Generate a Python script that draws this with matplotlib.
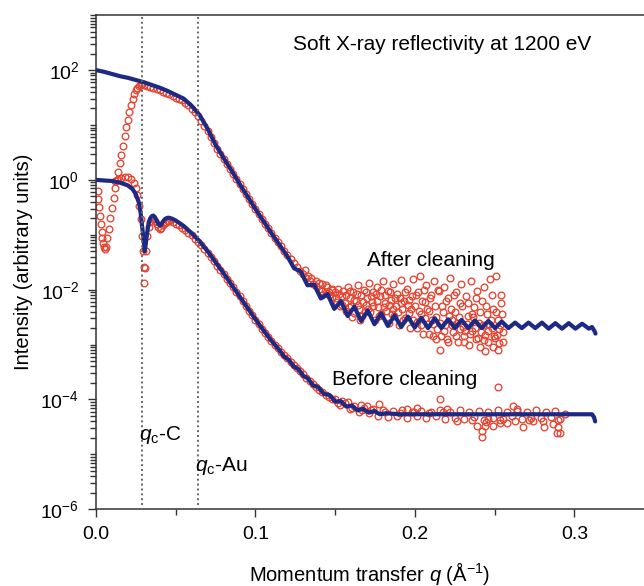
import numpy as np
import matplotlib
matplotlib.use("Agg")
import matplotlib.pyplot as plt
from matplotlib.ticker import FixedLocator, LogLocator, NullFormatter, MultipleLocator

plt.rcParams['font.family'] = ['Liberation Sans', 'DejaVu Sans']
plt.rcParams['mathtext.fontset'] = 'custom'
plt.rcParams['mathtext.rm'] = 'Liberation Sans'
plt.rcParams['mathtext.it'] = 'Liberation Sans:italic'

# ---- data (intensities stored as log10 values) ----
after_fit_q = [0.000, 0.005, 0.010, 0.015, 0.020, 0.025, 0.030, 0.035, 0.040, 0.045,
               0.050, 0.055, 0.060, 0.065, 0.070, 0.075, 0.080, 0.085, 0.090, 0.095,
               0.100, 0.105, 0.110, 0.115,
               0.1200, 0.1242, 0.1284, 0.1326, 0.1368, 0.1410, 0.1452, 0.1494, 0.1536, 0.1578,
               0.1620, 0.1662, 0.1704, 0.1746, 0.1788, 0.1830, 0.1872, 0.1914, 0.1956, 0.1998,
               0.2040, 0.2082, 0.2124, 0.2166, 0.2208, 0.2250, 0.2292, 0.2334, 0.2376, 0.2418,
               0.2460, 0.2502, 0.2544, 0.2586, 0.2628, 0.2670, 0.2712, 0.2754, 0.2796, 0.2838,
               0.2880, 0.2922, 0.2964, 0.3006, 0.3048, 0.3090, 0.3110, 0.3125, 0.3132]
after_fit_log = [2.00, 1.97, 1.93, 1.89, 1.86, 1.82, 1.78, 1.73, 1.68, 1.62,
                 1.55, 1.48, 1.35, 1.18, 0.93, 0.64, 0.40, 0.17, -0.07, -0.30,
                 -0.53, -0.75, -0.97, -1.18,
                 -1.39, -1.61, -1.67, -1.92, -1.91, -2.16, -2.08, -2.35, -2.21, -2.48,
                 -2.31, -2.57, -2.38, -2.63, -2.43, -2.66, -2.47, -2.68, -2.49, -2.69,
                 -2.51, -2.70, -2.52, -2.70, -2.54, -2.70, -2.55, -2.70, -2.56, -2.70,
                 -2.57, -2.70, -2.58, -2.70, -2.60, -2.70, -2.60, -2.70, -2.60, -2.71,
                 -2.61, -2.71, -2.61, -2.71, -2.62, -2.71, -2.68, -2.75, -2.80]

before_fit_q = [0.000, 0.005, 0.010, 0.015, 0.020, 0.023, 0.025, 0.027, 0.028, 0.029,
                0.030, 0.0305, 0.031, 0.032, 0.033, 0.034, 0.035, 0.036, 0.037, 0.038,
                0.039, 0.040, 0.041, 0.042, 0.043, 0.044, 0.045, 0.046, 0.048, 0.050,
                0.055, 0.060, 0.065, 0.070, 0.075, 0.080, 0.085, 0.090, 0.095, 0.100,
                0.105, 0.110, 0.115, 0.118, 0.121, 0.124, 0.127, 0.130, 0.133, 0.136,
                0.1395, 0.143, 0.1465, 0.150, 0.1535, 0.157, 0.1605, 0.164, 0.1675, 0.171,
                0.1745, 0.178, 0.182, 0.190, 0.200, 0.220, 0.240, 0.260, 0.280, 0.300,
                0.3110, 0.3122, 0.3130]
before_fit_log = [0.00, -0.01, -0.02, -0.05, -0.10, -0.17, -0.26, -0.42, -0.60, -0.86,
                  -1.12, -1.30, -1.22, -0.98, -0.80, -0.70, -0.66, -0.65, -0.68, -0.74,
                  -0.80, -0.83, -0.81, -0.76, -0.72, -0.70, -0.69, -0.69, -0.71, -0.74,
                  -0.84, -0.97, -1.12, -1.30, -1.50, -1.70, -1.91, -2.12, -2.33, -2.54,
                  -2.74, -2.93, -3.10, -3.22, -3.28, -3.40, -3.45, -3.57, -3.62, -3.74,
                  -3.78, -3.90, -3.92, -4.04, -4.03, -4.13, -4.11, -4.20, -4.17, -4.24,
                  -4.21, -4.27, -4.25, -4.27, -4.27, -4.27, -4.27, -4.27, -4.27, -4.27,
                  -4.27, -4.32, -4.40]

after_data_q = [0.0010, 0.0015, 0.0020, 0.0025, 0.0030, 0.0035, 0.0040, 0.0045, 0.0050, 0.0055,
                0.0060, 0.0070, 0.0080, 0.0090, 0.0100, 0.0110, 0.0120, 0.0130, 0.0140, 0.0150,
                0.0160, 0.0170, 0.0180, 0.0190, 0.0200, 0.0210, 0.0220, 0.0230, 0.0240, 0.0250,
                0.0260, 0.0270, 0.0280, 0.0290, 0.0300,
                0.032, 0.034, 0.036, 0.038, 0.040, 0.042, 0.044, 0.046, 0.048, 0.050,
                0.052, 0.054, 0.056, 0.058, 0.060, 0.062, 0.064, 0.066, 0.068, 0.070,
                0.072, 0.074, 0.076, 0.078, 0.080, 0.082, 0.084, 0.086, 0.088, 0.090,
                0.092, 0.094, 0.096, 0.098, 0.100, 0.102, 0.104, 0.106, 0.108, 0.110,
                0.112, 0.114, 0.116, 0.118, 0.120, 0.122, 0.124, 0.126, 0.128, 0.130,
                0.132, 0.134, 0.136, 0.138, 0.140, 0.142, 0.144, 0.146, 0.148,
                0.131, 0.133, 0.135, 0.138, 0.142, 0.145, 0.148,
                0.140, 0.142, 0.144, 0.146, 0.148]
after_data_log = [-0.20, -0.35, -0.50, -0.65, -0.80, -0.95, -1.05, -1.15, -1.22, -1.26,
                  -1.22, -1.05, -0.90, -0.70, -0.52, -0.33, -0.15, 0.00, 0.15, 0.30,
                  0.45, 0.62, 0.80, 0.96, 1.10, 1.24, 1.36, 1.47, 1.56, 1.63,
                  1.68, 1.71, 1.73, 1.74, 1.73,
                  1.71, 1.69, 1.67, 1.65, 1.63, 1.61, 1.58, 1.56, 1.53, 1.50,
                  1.48, 1.45, 1.41, 1.36, 1.30, 1.24, 1.16, 1.08, 0.99, 0.89,
                  0.78, 0.67, 0.57, 0.48, 0.38, 0.29, 0.20, 0.11, 0.02, -0.08,
                  -0.17, -0.26, -0.35, -0.44, -0.53, -0.62, -0.71, -0.80, -0.88, -0.97,
                  -1.05, -1.13, -1.21, -1.29, -1.37, -1.45, -1.52, -1.59, -1.66, -1.72,
                  -1.78, -1.84, -1.89, -1.94, -1.98, -2.02, -2.06, -2.10, -2.13,
                  -1.65, -1.75, -1.78, -1.85, -1.90, -1.95, -2.00,
                  -1.88, -2.10, -1.92, -2.05, -1.98]

after_noise_q = [0.150, 0.151, 0.152, 0.153, 0.154, 0.155, 0.156, 0.157, 0.158, 0.159,
                 0.160, 0.161, 0.162, 0.163, 0.164, 0.165, 0.166, 0.167, 0.168, 0.169,
                 0.170, 0.171, 0.172, 0.173, 0.174, 0.175, 0.176, 0.177, 0.178, 0.179,
                 0.180, 0.181, 0.182, 0.183, 0.184, 0.185, 0.186, 0.187, 0.188, 0.189,
                 0.190, 0.191, 0.192, 0.193, 0.194, 0.195, 0.196, 0.197, 0.198, 0.199,
                 0.200, 0.201, 0.202, 0.203, 0.204, 0.205, 0.206, 0.207, 0.208, 0.209,
                 0.210, 0.211, 0.212, 0.213, 0.214, 0.215, 0.216, 0.217, 0.218, 0.219,
                 0.220, 0.221, 0.222, 0.223, 0.224, 0.225, 0.226, 0.227, 0.228, 0.229,
                 0.230, 0.231, 0.232, 0.233, 0.234, 0.235, 0.236, 0.237, 0.238, 0.239,
                 0.240, 0.241, 0.242, 0.243, 0.244, 0.245, 0.246, 0.247, 0.248, 0.249,
                 0.250, 0.251, 0.252, 0.253, 0.254, 0.255,
                 0.2015, 0.2065, 0.2115, 0.2165, 0.2215, 0.2265, 0.2315, 0.2365, 0.2415, 0.2465,
                 0.2515, 0.2535, 0.1855, 0.1905, 0.1955, 0.1705, 0.1755, 0.1605, 0.1655,
                 0.1505, 0.1525, 0.1545, 0.1565, 0.1585, 0.1595, 0.1615, 0.1635, 0.1645, 0.1675,
                 0.1685, 0.1695, 0.1725, 0.1735, 0.1765, 0.1775, 0.1785, 0.1805, 0.1815, 0.1835,
                 0.1845, 0.1865, 0.1875, 0.1895, 0.1915, 0.1925, 0.1935, 0.1965, 0.1975, 0.1985,
                 0.2005, 0.2025, 0.2035, 0.2045, 0.2055, 0.2075, 0.2085, 0.2095, 0.2105, 0.2125,
                 0.2135, 0.2145, 0.2155, 0.2175, 0.2185, 0.2195, 0.2205, 0.2225, 0.2235, 0.2245,
                 0.2255, 0.2275, 0.2285, 0.2295, 0.2305, 0.2325, 0.2335, 0.2345, 0.2355, 0.2375,
                 0.2385, 0.2395, 0.2405, 0.2425, 0.2435, 0.2445, 0.2455, 0.2475, 0.2485, 0.2495,
                 0.2505, 0.2525, 0.2545, 0.2550, 0.2540, 0.2520, 0.2490, 0.2440]
after_noise_log = [-2.05, -2.22, -1.98, -2.30, -2.12, -2.02, -2.25, -2.38, -1.95, -2.15,
                   -2.30, -2.05, -2.42, -2.20, -1.92, -2.35, -2.10, -2.48, -2.00, -2.28,
                   -2.15, -1.88, -2.40, -2.22, -2.05, -2.55, -1.95, -2.32, -2.12, -2.45,
                   -1.85, -2.25, -2.38, -2.02, -2.60, -2.18, -1.90, -2.48, -2.30, -2.08,
                   -2.65, -1.82, -2.35, -2.20, -2.52, -1.98, -2.42, -2.70, -2.12, -1.80,
                   -2.30, -2.58, -2.05, -1.75, -2.45, -2.80, -2.22, -1.92, -2.62, -2.38,
                   -2.10, -2.85, -1.85, -2.50, -2.72, -2.02, -3.10, -2.30, -1.95, -2.65,
                   -2.90, -2.15, -1.78, -2.55, -2.78, -2.40, -2.05, -2.95, -2.25, -1.90,
                   -2.68, -2.85, -2.12, -2.48, -3.00, -1.85, -2.75, -2.32, -2.90, -2.02,
                   -2.60, -3.05, -2.20, -1.95, -2.82, -2.45, -2.95, -1.80, -2.70, -2.35,
                   -2.88, -1.75, -2.55, -2.98, -2.10, -2.78,
                   -2.70, -2.52, -2.62, -2.85, -2.48, -2.60, -2.75, -2.50, -2.78, -2.62,
                   -2.82, -2.65, -2.45, -2.15, -2.28, -2.35, -2.08, -2.50, -2.55,
                   -2.15, -2.08, -2.28, -2.10, -2.32, -2.02, -2.18, -2.08, -2.28, -2.22,
                   -2.40, -2.05, -2.12, -2.30, -2.20, -2.48, -2.00, -2.32, -2.10, -2.28,
                   -2.05, -2.35, -2.15, -2.40, -2.25, -2.55, -2.05, -2.18, -2.35, -2.55,
                   -2.10, -2.38, -2.65, -2.20, -2.00, -2.35, -2.80, -2.15, -2.55, -2.30,
                   -2.90, -2.00, -2.60, -2.40, -2.75, -2.20, -2.95, -2.35, -2.65, -2.10,
                   -2.85, -2.50, -2.72, -2.30, -2.95, -2.62, -2.25, -2.80, -2.45, -2.70,
                   -2.15, -2.88, -2.40, -2.65, -2.92, -2.30, -2.75, -2.55, -2.10, -2.85,
                   -2.40, -2.72, -2.45, -2.95, -2.25, -3.10, -3.05, -3.12]

before_data_q = [0.012, 0.014, 0.016, 0.018, 0.020, 0.022, 0.024, 0.025, 0.026, 0.027,
                 0.028, 0.029, 0.0295, 0.0300, 0.0303, 0.0307, 0.0312, 0.032, 0.033, 0.034,
                 0.035, 0.036, 0.037, 0.038, 0.039, 0.040, 0.041, 0.042, 0.043, 0.044,
                 0.045, 0.046, 0.048, 0.050, 0.052, 0.054, 0.056, 0.058, 0.060, 0.062,
                 0.064, 0.066, 0.068, 0.070, 0.072, 0.074, 0.076, 0.078, 0.080, 0.082,
                 0.084, 0.086, 0.088, 0.090, 0.092, 0.094, 0.096, 0.098, 0.100, 0.102,
                 0.104, 0.106, 0.108, 0.110, 0.112, 0.114, 0.116, 0.118, 0.120, 0.122,
                 0.124, 0.126, 0.128, 0.130, 0.132, 0.134, 0.136, 0.138, 0.140, 0.142,
                 0.144, 0.146, 0.148]
before_data_log = [-0.02, 0.01, 0.04, 0.06, 0.05, 0.02, -0.06, -0.14, -0.28, -0.48,
                   -0.72, -1.02, -1.30, -1.58, -1.87, -1.60, -1.30, -1.02, -0.86, -0.76,
                   -0.72, -0.71, -0.74, -0.80, -0.86, -0.90, -0.88, -0.83, -0.78, -0.76,
                   -0.75, -0.75, -0.77, -0.80, -0.83, -0.87, -0.91, -0.96, -1.01, -1.07,
                   -1.13, -1.19, -1.26, -1.33, -1.40, -1.48, -1.56, -1.64, -1.72, -1.80,
                   -1.88, -1.96, -2.04, -2.12, -2.21, -2.29, -2.38, -2.46, -2.55, -2.63,
                   -2.71, -2.79, -2.87, -2.94, -3.01, -3.07, -3.13, -3.19, -3.25, -3.31,
                   -3.37, -3.43, -3.48, -3.54, -3.60, -3.66, -3.72, -3.77, -3.82, -3.86,
                   -3.91, -3.95, -3.99]

before_noise_q = [0.150, 0.153, 0.156, 0.159, 0.162, 0.165, 0.168, 0.171, 0.174, 0.177,
                  0.180, 0.183, 0.186, 0.189, 0.192, 0.195, 0.198, 0.201, 0.204, 0.207,
                  0.210, 0.213, 0.216, 0.219, 0.222, 0.225, 0.228, 0.231, 0.234, 0.237,
                  0.240, 0.243, 0.246, 0.249, 0.252, 0.255, 0.258, 0.261, 0.264, 0.267,
                  0.270, 0.273, 0.276, 0.279, 0.282, 0.285, 0.288, 0.291, 0.294,
                  0.1776, 0.1947, 0.201, 0.2157, 0.220, 0.2386, 0.2418, 0.2418, 0.2439, 0.2458,
                  0.249, 0.252, 0.2533, 0.2575, 0.2615, 0.2637, 0.268, 0.274, 0.281, 0.2867,
                  0.2888, 0.2897, 0.291, 0.158, 0.166, 0.170,
                  0.1515, 0.1545, 0.1605, 0.1665, 0.1725, 0.1815, 0.1905, 0.1995, 0.2085, 0.2175,
                  0.2265, 0.2355, 0.2445, 0.2535, 0.2625, 0.2715, 0.2805, 0.2895]
before_noise_log = [-4.00, -4.10, -4.06, -4.18, -4.12, -4.22, -4.15, -4.25, -4.18, -4.30,
                    -4.20, -4.32, -4.21, -4.31, -4.20, -4.33, -4.22, -4.30, -4.21, -4.34,
                    -4.22, -4.31, -4.20, -4.35, -4.22, -4.33, -4.20, -4.36, -4.23, -4.32,
                    -4.21, -4.37, -4.22, -4.33, -4.20, -4.35, -4.23, -4.31, -4.21, -4.36,
                    -4.22, -4.33, -4.20, -4.34, -4.23, -4.32, -4.21, -4.35, -4.26,
                    -4.08, -4.18, -4.15, -4.00, -4.18, -4.48, -4.58, -4.68, -4.48, -4.36,
                    -4.48, -3.78, -4.42, -4.42, -4.12, -4.18, -4.51, -4.39, -4.50, -4.44,
                    -4.61, -4.50, -4.61, -4.05, -4.10, -4.12,
                    -4.06, -4.02, -4.16, -4.20, -4.19, -4.22, -4.24, -4.23, -4.24, -4.22,
                    -4.40, -4.38, -4.41, -4.37, -4.40, -4.38, -4.39, -4.37]

qc_positions = [0.0288, 0.0638]

red = '#e8432f'
navy = '#1c2a86'

fig = plt.figure(figsize=(6.44, 5.86), dpi=100)
ax = fig.add_axes([0.149, 0.131, 0.851, 0.843])

# measured data (open red circles)
mk = dict(linestyle='none', marker='o', markersize=4.8, markerfacecolor='none',
          markeredgecolor=red, markeredgewidth=0.95)
for qq, ll in [(after_data_q, after_data_log), (after_noise_q, after_noise_log),
               (before_data_q, before_data_log), (before_noise_q, before_noise_log)]:
    ax.plot(qq, 10.0 ** np.array(ll), **mk)

# fits (thick navy lines)
ax.plot(after_fit_q, 10.0 ** np.array(after_fit_log), color=navy, lw=3.0,
        solid_joinstyle='round', solid_capstyle='round')
ax.plot(before_fit_q, 10.0 ** np.array(before_fit_log), color=navy, lw=3.0,
        solid_joinstyle='round', solid_capstyle='round')

# critical-angle markers
ax.vlines(qc_positions, 10 ** -5.92, 1e3, colors='#666666', linestyles=(0, (1, 1.5)), lw=1.4)

ax.set_yscale('log')
ax.set_xlim(0, 0.3436)
ax.set_ylim(1e-6, 1e3)
ax.yaxis.set_major_locator(FixedLocator([1e-6, 1e-4, 1e-2, 1e0, 1e2]))
ax.yaxis.set_minor_locator(LogLocator(base=10, subs=np.arange(1, 10), numticks=30))
ax.yaxis.set_minor_formatter(NullFormatter())
ax.xaxis.set_major_locator(FixedLocator([0.0, 0.1, 0.2, 0.3]))
ax.xaxis.set_minor_locator(MultipleLocator(0.05))
ax.set_xticklabels(['0.0', '0.1', '0.2', '0.3'])

for s in ['left', 'bottom', 'top']:
    ax.spines[s].set_color('#333333')
    ax.spines[s].set_linewidth(1.1)
ax.spines['right'].set_visible(False)
ax.tick_params(which='both', direction='out', color='#333333', width=1.0,
               labelsize=14, top=False, right=False)
ax.tick_params(which='major', length=6, pad=6)
ax.tick_params(which='minor', length=4)

ax.set_xlabel('Momentum transfer $q$ (Å$^{-1}$)', fontsize=14.5, labelpad=12)
ax.set_ylabel('Intensity (arbitrary units)', fontsize=14.5, labelpad=5)

ax.text(0.1237, 10 ** 2.364, 'Soft X-ray reflectivity at 1200 eV', fontsize=15, va='baseline')
ax.text(0.1700, 10 ** -1.576, 'After cleaning', fontsize=15, va='baseline')
ax.text(0.1478, 10 ** -3.745, 'Before cleaning', fontsize=15, va='baseline')
ax.text(0.0272, 10 ** -4.73, '$q_\\mathrm{c}$-C', fontsize=15, va='baseline')
ax.text(0.0621, 10 ** -5.30, '$q_\\mathrm{c}$-Au', fontsize=15, va='baseline')

fig.savefig('out.png', dpi=100)
